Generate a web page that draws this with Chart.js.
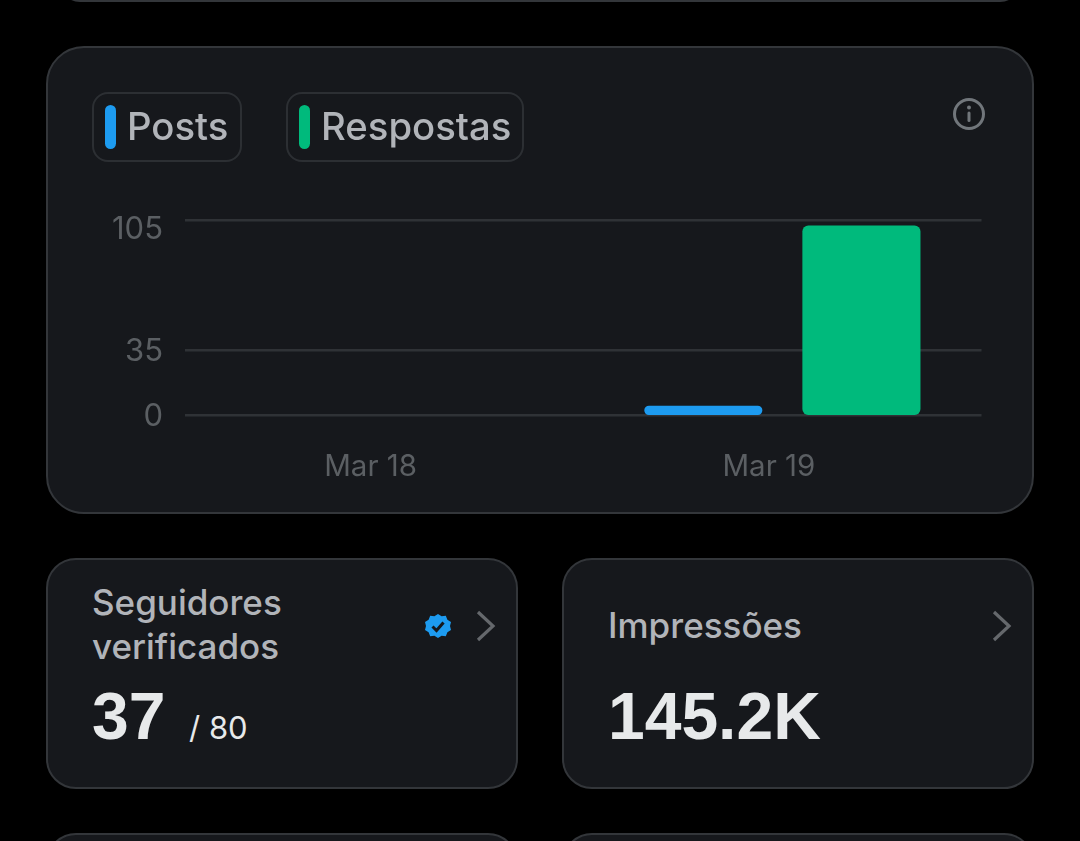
<!DOCTYPE html>
<html>
<head>
<meta charset="utf-8">
<script src="https://cdn.jsdelivr.net/npm/chart.js@4"></script>
<style>
  html, body { margin: 0; padding: 0; background: #000; }
  body { position: relative; width: 1080px; height: 841px; overflow: hidden; font-family: Inter, sans-serif; }
  .card { position: absolute; box-sizing: border-box; background: #16181c; border: 2px solid #33363a; }
  .txt { position: absolute; white-space: nowrap; line-height: 1; }
  .label { color: #b1b4b9; font-size: 35px; font-weight: 500; }
  .big { color: #e7e9ea; font-family: "Liberation Sans", Arial, sans-serif; font-weight: 700; font-size: 66px; }
  .pill { position: absolute; box-sizing: border-box; top: 92px; height: 70px; border: 2px solid #2c2f33; border-radius: 16px; }
  .swatch { position: absolute; top: 105px; width: 11px; height: 44px; border-radius: 6px; }
  svg { position: absolute; }
  #chartCard { position: absolute; left: 47px; top: 47px; }
</style>
</head>
<body>
<div class="card" style="left:60px; top:-60px; width:960px; height:62px; border-radius:20px"></div>
<div class="card" style="left:46px; top:46px; width:988px; height:468px; border-radius:38px"></div>
<div class="card" style="left:46px; top:558px; width:472px; height:231px; border-radius:30px"></div>
<div class="card" style="left:562px; top:558px; width:472px; height:231px; border-radius:30px"></div>
<div class="card" style="left:46px; top:833px; width:472px; height:60px; border-radius:30px"></div>
<div class="card" style="left:562px; top:833px; width:472px; height:60px; border-radius:30px"></div>

<canvas id="chartCard" width="986" height="466" style="width:986px;height:466px"></canvas>

<div class="pill" style="left:92px; width:150px"></div>
<div class="swatch" id="swatch0" style="left:105px"></div>
<div class="txt label" id="legend0" style="left:127px; top:107px; font-size:38.3px"></div>
<div class="pill" style="left:286px; width:238px"></div>
<div class="swatch" id="swatch1" style="left:299px"></div>
<div class="txt label" id="legend1" style="left:321px; top:107px; font-size:38.3px"></div>

<svg style="left:952px; top:97px" width="34" height="34" viewBox="0 0 34 34">
  <circle cx="17" cy="17" r="14.5" fill="none" stroke="#71767b" stroke-width="3"/>
  <circle cx="17" cy="10.5" r="2" fill="#71767b"/>
  <rect x="15.5" y="14.5" width="3" height="10.5" rx="1.5" fill="#71767b"/>
</svg>

<div class="txt label" style="left:92px; top:585px">Seguidores</div>
<div class="txt label" style="left:92px; top:629px">verificados</div>
<div class="txt big" style="left:92px; top:683px">37</div>
<div class="txt" style="left:189px; top:712px; color:#e7e9ea; font-size:31px">/ 80</div>
<svg style="left:424px; top:612px" width="28" height="28" viewBox="0 0 28 28">
  <path fill="#1d9bf0" d="M14 1l3.6 2.3 4.2-.4 1.6 3.9 3.6 2.2-1 4.1 1 4.1-3.6 2.2-1.6 3.9-4.2-.4L14 25.2l-3.6-2.3-4.2.4-1.6-3.9L1 17.2l1-4.1-1-4.1 3.6-2.2 1.6-3.9 4.2.4z" transform="translate(0 .9)"/>
  <path fill="none" stroke="#16181c" stroke-width="3" d="M8.5 14.5l4 4 7-8"/>
</svg>
<svg style="left:474px; top:610px" width="24" height="32" viewBox="0 0 24 32">
  <path fill="none" stroke="#65686c" stroke-width="3.2" d="M4 2l15 14L4 30"/>
</svg>

<div class="txt label" style="left:608px; top:608px">Impressões</div>
<div class="txt big" style="left:608px; top:683px">145.2K</div>
<svg style="left:990px; top:610px" width="24" height="32" viewBox="0 0 24 32">
  <path fill="none" stroke="#65686c" stroke-width="3.2" d="M4 2l15 14L4 30"/>
</svg>

<script>
const categories = ['Mar 18', 'Mar 19'];
const seriesNames = ['Posts', 'Respostas'];
const postsValues = [0, 5];
const replyValues = [0, 102];
const yTicks = [0, 35, 105];
const seriesColors = ['#1d9bf0', '#00ba7c'];

seriesNames.forEach((name, i) => {
    document.getElementById('legend' + i).textContent = name;
    document.getElementById('swatch' + i).style.background = seriesColors[i];
});

// y labels sit a bit low, the top one under its grid line
const shiftYLabels = {
    id: 'shiftYLabels',
    beforeDraw(chart) {
        chart.scales.y.getLabelItems().forEach(item => {
            if (!item.moved) {
                item.options.translation[1] += item.label === '105' ? 10 : 1.5;
                item.moved = true;
            }
        });
    }
};

const ctx = document.getElementById('chartCard').getContext('2d');
const chart = new Chart(ctx, {
    type: 'bar',
    data: {
        labels: categories,
        datasets: [
            // base just under 0 keeps the bar down on the grid line
            { label: seriesNames[0], data: postsValues, backgroundColor: seriesColors[0], borderRadius: 6, borderSkipped: false, inflateAmount: 0, base: -0.001 },
            { label: seriesNames[1], data: replyValues, backgroundColor: seriesColors[1], borderRadius: 6, borderSkipped: false, inflateAmount: 0, base: -0.001 }
        ]
    },
    options: {
        responsive: false,
        animation: false,
        categoryPercentage: 0.794,
        barPercentage: 0.747,
        layout: { padding: { top: 173, right: 51.5, left: 0, bottom: 0 } },
        plugins: {
            legend: { display: false },
            tooltip: { enabled: false }
        },
        scales: {
            x: {
                grid: { display: false },
                border: { display: false },
                afterFit: scale => { scale.height = 98; },
                ticks: {
                    color: '#5b5f63',
                    font: { family: 'Inter', size: 29.5 },
                    padding: 26,
                    labelOffset: -13.5,
                    maxRotation: 0
                }
            },
            y: {
                min: 0,
                max: 105,
                afterBuildTicks: scale => { scale.ticks = yTicks.map(v => ({ value: v })); },
                afterFit: scale => { scale.width = 138; },
                grid: { color: '#2f3236', lineWidth: 2.5, drawTicks: false },
                border: { display: false },
                ticks: {
                    color: '#5b5f63',
                    font: { family: 'Inter', size: 31 },
                    padding: 22
                }
            }
        }
    },
    plugins: [shiftYLabels]
});
</script>
</body>
</html>
